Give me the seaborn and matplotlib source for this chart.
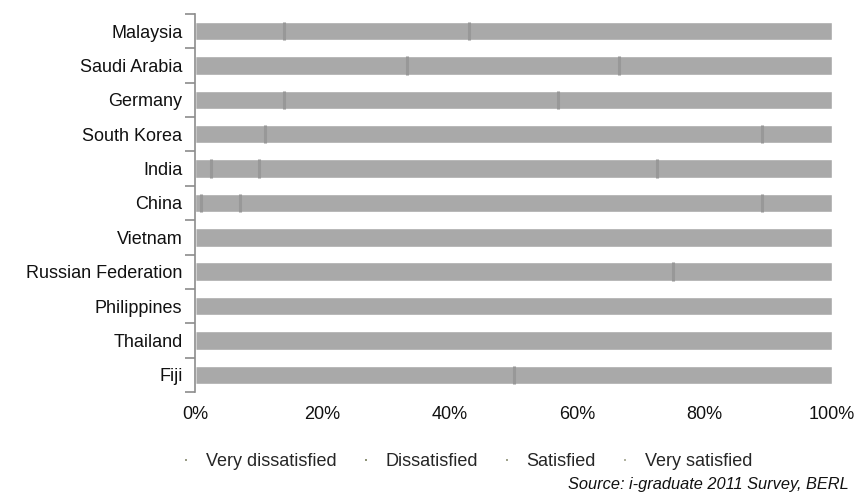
import numpy as np
import pandas as pd
import seaborn as sns
import matplotlib.pyplot as plt
from matplotlib.lines import Line2D
from matplotlib.ticker import FixedLocator, PercentFormatter

# Values (share of respondents, %)
countries = ['Malaysia', 'Saudi Arabia', 'Germany', 'South Korea', 'India', 'China',
             'Vietnam', 'Russian Federation', 'Philippines', 'Thailand', 'Fiji']
very_dissatisfied = [0, 0, 0, 0, 2.5, 1, 0, 0, 0, 0, 0]
dissatisfied = [14, 33.3, 14, 11, 7.5, 6, 0, 0, 0, 0, 0]
satisfied = [29, 33.3, 43, 78, 62.5, 82, 100, 75, 100, 100, 50]
very_satisfied = [57, 33.4, 43, 11, 27.5, 11, 0, 25, 0, 0, 50]
levels = ['Very dissatisfied', 'Dissatisfied', 'Satisfied', 'Very satisfied']

df = pd.DataFrame({'country': countries,
                   'Very dissatisfied': very_dissatisfied,
                   'Dissatisfied': dissatisfied,
                   'Satisfied': satisfied,
                   'Very satisfied': very_satisfied})
cum = df[levels].cumsum(axis=1)

sns.set_style('white')
plt.rcParams['font.family'] = ['Liberation Sans', 'DejaVu Sans']

fig = plt.figure(figsize=(8.59, 4.95), dpi=100)
ax = fig.add_axes([0.227, 0.208, 0.7416, 0.764])

# stacked bars: draw cumulative totals from the largest down
bar_gray = '#a9a9a9'
for lvl in reversed(levels):
    sns.barplot(x=cum[lvl], y=df['country'], orient='h', color=bar_gray,
                width=0.54, saturation=1, ax=ax)

# faint darker marks at segment boundaries
for i, row in cum.iterrows():
    for lvl in levels[:-1]:
        v = row[lvl]
        if df.loc[i, lvl] > 0 and 0 < v < 100:
            ax.vlines(v, i - 0.27, i + 0.27, color='#989898', lw=2.2)

ax.set_xlim(0, 100)
ax.set_ylim(10.5, -0.5)
ax.xaxis.set_major_locator(FixedLocator([0, 20, 40, 60, 80, 100]))
ax.xaxis.set_major_formatter(PercentFormatter(decimals=0))
ax.yaxis.set_minor_locator(FixedLocator(np.arange(-0.5, 11, 1)))
ax.tick_params(axis='y', which='major', length=0, pad=9, labelsize=13, labelcolor='#111111')
ax.tick_params(axis='y', which='minor', length=7, width=1.2, color='#8c8c8c', left=True)
ax.tick_params(axis='x', length=0, pad=10, labelsize=13, labelcolor='#111111')
ax.set_xlabel('')
ax.set_ylabel('')
for s in ['top', 'right', 'bottom']:
    ax.spines[s].set_visible(False)
ax.spines['left'].set_color('#8c8c8c')
ax.spines['left'].set_linewidth(1.2)

handles = [Line2D([], [], ls='', marker='s', markersize=1.8,
                  color=c, markeredgewidth=0)
           for c in ['#9a9c86', '#8f9478', '#a0a38c', '#b0b2a0']]
fig.legend(handles, levels, loc='center', bbox_to_anchor=(0.542, 0.067), ncol=4,
           frameon=False, fontsize=13, handlelength=0.8, handletextpad=0.7,
           columnspacing=1.2)

fig.text(0.988, 0.013, 'Source: i-graduate 2011 Survey, BERL', ha='right',
         fontsize=11.8, style='italic', color='#111111')

fig.savefig('out.png', dpi=100)
